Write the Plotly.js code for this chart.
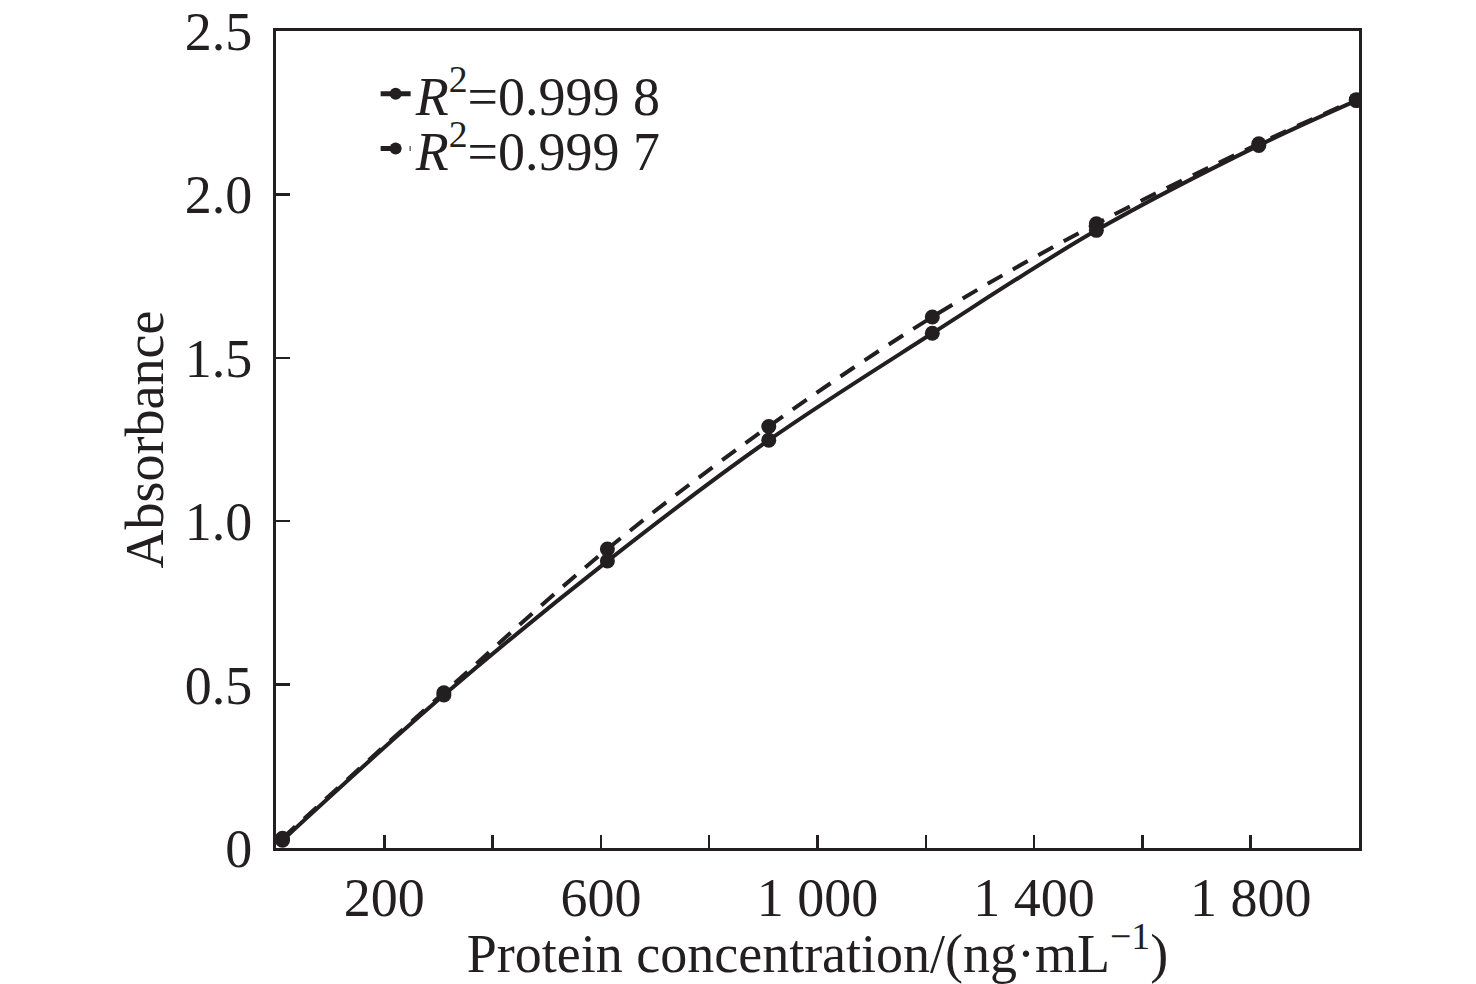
<!DOCTYPE html>
<html>
<head>
<meta charset="utf-8">
<script src="https://cdn.plot.ly/plotly-3.0.1.min.js"></script>
<style>
  html, body { margin: 0; padding: 0; background: #fff; }
  #chart { width: 1476px; height: 984px; }
</style>
</head>
<body>
<div id="chart"></div>
<script>
// concentration (ng/mL) and absorbance
const conc = [12, 310, 612, 910, 1212, 1515, 1815, 1995];
const absSolid = [0.024, 0.468, 0.878, 1.248, 1.575, 1.890, 2.150, 2.287];
const absDashed = [0.030, 0.475, 0.915, 1.290, 1.625, 1.910, 2.155, 2.290];
const seriesNames = ['<i>R</i><sup>2</sup>=0.999 8', '<i>R</i><sup>2</sup>=0.999 7'];

const xLabelVals = [200, 600, 1000, 1400, 1800];
const xLabelText = ['200', '600', '1 000', '1 400', '1 800'];
const yTickVals = [0, 0.5, 1.0, 1.5, 2.0, 2.5];
const yTickText = ['0', '0.5', '1.0', '1.5', '2.0', '2.5'];

const ink = '#231f20';
const serif = 'Liberation Serif, Times New Roman, serif';

var data = [{
  x: conc, y: absDashed, name: seriesNames[1],
  legend: 'legend2',
  mode: 'lines+markers', type: 'scatter',
  line: { color: ink, width: 4, dash: '17px,12px', shape: 'spline' },
  marker: { color: ink, size: 15 },
}, {
  x: conc, y: absSolid, name: seriesNames[0],
  legend: 'legend',
  mode: 'lines+markers', type: 'scatter',
  line: { color: ink, width: 4, shape: 'spline' },
  marker: { color: ink, size: 15 },
}];

function legendAt(y) {
  return {
    x: 0.092, xanchor: 'left',
    y, yanchor: 'top',
    itemsizing: 'constant',
    bgcolor: 'rgba(0,0,0,0)',
    font: { family: serif, size: 54, color: ink },
  };
}

var layout = {
  autosize: false,
  width: 1476,
  height: 984,
  hovermode: false,
  paper_bgcolor: '#fff',
  plot_bgcolor: '#fff',
  font: { family: serif, size: 52, color: ink },
  margin: { l: 276, r: 117, t: 31, b: 136 },
  showlegend: true,
  legend: legendAt(0.974),
  legend2: legendAt(0.907),
  xaxis: {
    range: [0, 2000],
    fixedrange: true,
    showgrid: false,
    zeroline: false,
    showline: true, linecolor: ink, linewidth: 3, mirror: true,
    tickmode: 'array', tickvals: xLabelVals, ticktext: xLabelText,
    ticks: 'inside', ticklen: 13, tickwidth: 2.5, tickcolor: ink,
    minor: { tickmode: 'linear', tick0: 0, dtick: 200, ticks: 'inside', ticklen: 13, tickwidth: 2.5, tickcolor: ink },
    tickfont: { family: serif, size: 54, color: ink },
    title: { text: 'Protein concentration/(ng·mL<sup>−1</sup>)', font: { family: serif, size: 54, color: ink }, standoff: 8 },
  },
  yaxis: {
    range: [0, 2.5],
    fixedrange: true,
    showgrid: false,
    zeroline: false,
    showline: true, linecolor: ink, linewidth: 3, mirror: true,
    tickmode: 'array', tickvals: yTickVals, ticktext: yTickText,
    ticks: 'inside', ticklen: 14, tickwidth: 2.5, tickcolor: ink,
    ticklabelstandoff: 10,
    tickfont: { family: serif, size: 54, color: ink },
    title: { text: 'Absorbance', font: { family: serif, size: 54, color: ink }, standoff: 4 },
  },
};

Plotly.newPlot('chart', data, layout, { displayModeBar: false, staticPlot: true });
</script>
</body>
</html>
